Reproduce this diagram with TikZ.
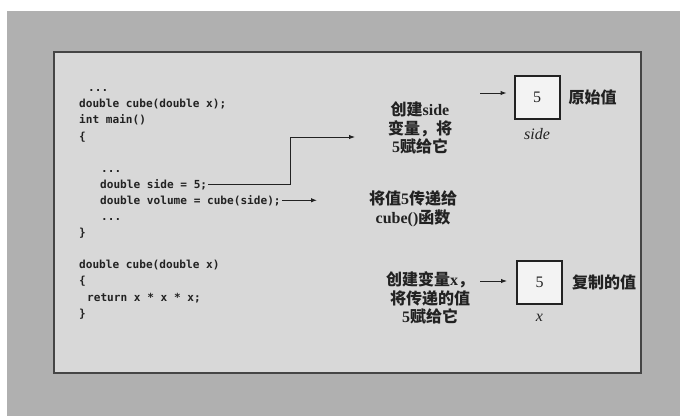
\documentclass[tikz,border=0pt]{standalone}
\usepackage{fontspec}
\setmainfont{Liberation Serif}
\setmonofont{DejaVu Sans Mono}
\newfontfamily\cjk{Noto Sans CJK SC}
\usetikzlibrary{arrows.meta,positioning}
\definecolor{pgPaper}{HTML}{B0B0B0}
\definecolor{pgPanel}{HTML}{D8D8D8}
\definecolor{pgFrame}{HTML}{454545}
\definecolor{pgInk}{HTML}{222222}
\definecolor{pgCell}{HTML}{F3F3F3}
\newcommand{\lat}[1]{{\rmfamily\bfseries #1}}

\begin{document}
\begin{tikzpicture}[x=1pt, y=-1pt,
  code/.style={anchor=base west, inner sep=1pt, font=\ttfamily\bfseries\fontsize{11.1}{13}\selectfont, text=pgInk},
  note/.style={align=center, inner sep=1pt, font=\cjk\bfseries\fontsize{16}{18.5}\selectfont, text=pgInk},
  cell/.style={draw=pgInk, line width=2pt, fill=pgCell, minimum width=45pt, minimum height=43pt, text=pgInk, font=\fontsize{16}{18}\selectfont},
  vname/.style={font=\itshape\fontsize{16}{18}\selectfont, text=pgInk, inner sep=1pt},
  flow/.style={-{Latex[length=6pt,width=4.5pt]}, line width=1pt, pgInk}]
\useasboundingbox (0,0) rectangle (680,416);
\fill[white] (0,0) rectangle (680,416);
\fill[pgPaper] (7,11) rectangle (680,416);
\draw[pgFrame, line width=2.5pt, fill=pgPanel] (54,52) rectangle (641,373);

\node[code] (dots1) at (87,91) {...};
\node[code] (proto) at (78,107) {double cube(double x);};
\node[code] (mainf) at (78,123) {int main()};
\node[code] (mopen) at (78,140) {\{};
\node[code] (dots2) at (100,172) {...};
\node[code] (side) at (99,188) {double side = 5;};
\node[code] (volume) at (99,204) {double volume = cube(side);};
\node[code] (dots3) at (100,220) {...};
\node[code] (mclose) at (78,236) {\}};
\node[code] (cubef) at (78,268) {double cube(double x)};
\node[code] (copen) at (78,284) {\{};
\node[code] (ret) at (86,301) {return x * x * x;};
\node[code] (cclose) at (78,317) {\}};

\node[note] (lbside) at (420,128) {创建\lat{side}\\变量，将\\\lat{5}赋给它};
\node[note] (lbcall) at (413,209) {将值\lat{5}传递给\\\lat{cube()}函数};
\node[note] (lbx) at (430,298) {创建变量\lat{x}，\\将传递的值\\\lat{5}赋给它};

\node[cell] (cside) at (537,97) {5};
\node[cell] (cx) at (539.5,282.5) {5};
\node[note, right=7pt of cside] (orig) {原始值};
\node[note, right=8pt of cx] (copy) {复制的值};
\node[vname, below=8pt of cside] (nside) {side};
\node[vname, below=8pt of cx] (nx) {x};

\coordinate (bend) at (290,137);
\coordinate (tipA) at (355,137);
\coordinate (tipB) at (317,200);
\coordinate (srcA) at (480,93);
\coordinate (srcB) at (480,281);
\draw[flow] (side.east) -| (bend) -- (tipA);
\draw[flow] (volume.east) -- (volume.east -| tipB);
\draw[flow, shorten >=7pt] (srcA) -- (srcA -| cside.west);
\draw[flow, shorten >=9pt] (srcB) -- (srcB -| cx.west);
\end{tikzpicture}
\end{document}
